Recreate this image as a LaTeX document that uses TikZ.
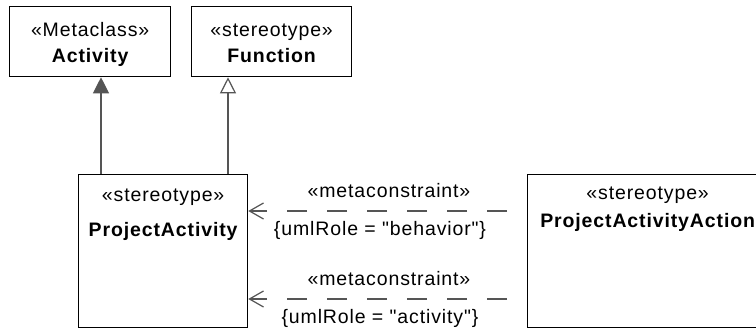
\documentclass[tikz,border=0pt]{standalone}
\usepackage{fontspec}
\setmainfont{Liberation Sans}[LetterSpace=4.5,Ligatures=TeXOff]
\usetikzlibrary{arrows.meta,calc}
\definecolor{lnk}{HTML}{555555}
\tikzset{
  umlbox/.style={draw=black, line width=1.3pt, fill=white, rectangle, inner sep=0pt, anchor=north west},
  txt/.style={anchor=base, inner sep=0pt, font=\fontsize{19.5}{23}\selectfont},
  btxt/.style={txt, font=\fontsize{19.5}{23}\selectfont\bfseries},
  gen/.style={draw=lnk, line width=1.2pt, -{Triangle[length=16pt,width=16pt,fill=lnk]}},
  genopen/.style={draw=lnk, line width=1.2pt, -{Triangle[open,length=16pt,width=16pt,fill=white]}},
  dep/.style={draw=lnk, line width=1.2pt, dash pattern=on 20pt off 20pt, dash phase=20pt,
    -{Straight Barb[length=14pt,width=16pt]}},
}
\begin{document}
\begin{tikzpicture}[x=1pt,y=-1pt]
\useasboundingbox (0,0) rectangle (756,329);
\clip (0,0) rectangle (756,329);
% boxes
\node[umlbox, minimum width=161pt, minimum height=70pt] (act) at (9,6) {};
\node[umlbox, minimum width=160pt, minimum height=70pt] (fun) at (191,6) {};
\node[umlbox, minimum width=169pt, minimum height=153pt] (pa) at (78,174) {};
\node[umlbox, minimum width=240pt, minimum height=153pt] (paa) at (527,174) {};
% box texts
\node[txt] (actst) at ($(act.north)+(0,31)$) {«Metaclass»};
\node[btxt] (actnm) at ($(act.north)+(0,57)$) {Activity};
\node[txt] (funst) at ($(fun.north)+(0,31)$) {«stereotype»};
\node[btxt] (funnm) at ($(fun.north)+(0,57)$) {Function};
\node[txt] (past) at ($(pa.north)+(0,27)$) {«stereotype»};
\node[btxt] (panm) at ($(pa.north)+(0,62)$) {ProjectActivity};
\node[txt] (paast) at ($(paa.north)+(0,25)$) {«stereotype»};
\node[btxt] (paanm) at ($(paa.north)+(0,53)$) {ProjectActivityAction};
% generalizations
\draw[gen] ($(pa.north west)+(23,0)$) -- ($(act.south west)+(92,0)$);
\draw[genopen] ($(pa.north west)+(150,0)$) -- ($(fun.south west)+(37,0)$);
% dependencies
\draw[dep] ($(paa.north west)+(0,37)$) -- ($(pa.north east)+(0,37)$);
\draw[dep] ($(paa.north west)+(0,125)$) -- ($(pa.north east)+(0,125)$);
% dependency labels
\node[txt] (l1a) at (389,197) {«metaconstraint»};
\node[txt] (l1b) at (380,235) {\{umlRole = "behavior"\}};
\node[txt] (l2a) at (389,285) {«metaconstraint»};
\node[txt] (l2b) at (380,323) {\{umlRole = "activity"\}};
\end{tikzpicture}
\end{document}
